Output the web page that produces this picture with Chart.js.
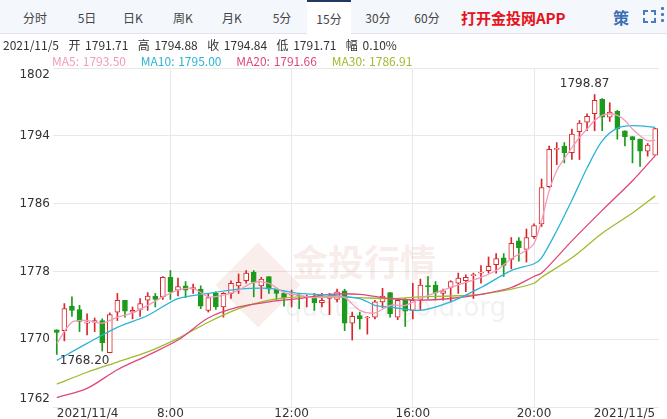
<!DOCTYPE html>
<html>
<head>
<meta charset="utf-8">
<script src="https://cdn.jsdelivr.net/npm/chart.js@4"></script>
<style>
body { margin: 0; width: 667px; height: 419px; overflow: hidden; background: #fff; font-family: "Noto Sans CJK SC", "DejaVu Sans", sans-serif; position: relative; }
.tabs { position: absolute; left: 0; top: 0; width: 667px; height: 33px; background: #f4f7fb; border-bottom: 1px solid #dfe5ec; }
.tab { position: absolute; top: 0; height: 33px; line-height: 35px; font-size: 12px; color: #444; text-align: center; width: 44px; }
.tab.active { background: #fff; border-top: 2px solid #1f3b63; height: 32px; line-height: 33px; }
.app { position: absolute; left: 461px; top: 0; line-height: 35px; font-size: 15px; font-weight: bold; color: #e5141c; }
.ce { position: absolute; left: 613px; top: 0; line-height: 35px; font-size: 16px; color: #3b6fb6; font-weight: bold; }
.fs { position: absolute; left: 643px; top: 10px; width: 13px; height: 13px; border: 2px solid #4a7bc0; box-sizing: border-box; }
.fs:after { content: ''; position: absolute; left: 3px; top: -2px; width: 3px; height: 13px; background: #f4f7fb; }
.fs:before { content: ''; position: absolute; left: -2px; top: 3px; width: 13px; height: 3px; background: #f4f7fb; }
.dots { position: absolute; left: 661px; top: 7px; width: 3px; }
.dots i { display: block; width: 3px; height: 3px; background: #4a7bc0; margin-bottom: 3px; border-radius: 1px; }
.info { position: absolute; left: 3px; top: 36px; font-size: 12px; color: #333; white-space: pre; word-spacing: 2px; }
.ma { position: absolute; left: 52px; top: 52px; font-size: 12px; white-space: pre; word-spacing: 1px; }
#wrap { position: absolute; left: 0; top: 40px; width: 667px; height: 379px; }
</style>
</head>
<body>
<div class="tabs">
  <div class="tab" style="left:13px">分时</div>
  <div class="tab" style="left:65px">5日</div>
  <div class="tab" style="left:111px">日K</div>
  <div class="tab" style="left:161px">周K</div>
  <div class="tab" style="left:210px">月K</div>
  <div class="tab" style="left:260px">5分</div>
  <div class="tab active" style="left:307px">15分</div>
  <div class="tab" style="left:356px">30分</div>
  <div class="tab" style="left:405px">60分</div>
  <div class="app">打开金投网APP</div>
  <div class="ce">策</div>
  <div class="fs"></div>
  <div class="dots"><i></i><i></i><i></i></div>
</div>
<div id="wrap"><canvas id="c"></canvas></div>
<div class="info">2021/11/5  开 1791.71  高 1794.88  收 1794.84  低 1791.71  幅 0.10%</div>
<div class="ma"><span style="color:#f29bbd">MA5: 1793.50</span>    <span style="color:#2bb5d6">MA10: 1795.00</span>    <span style="color:#e0467c">MA20: 1791.66</span>    <span style="color:#9fbb2e">MA30: 1786.91</span></div>
<script>
// 15 minute candles, 2021/11/4 04:15 .. 2021/11/5 00:00
const opens  = [1771.1,1771.0,1773.9,1773.5,1771.9,1772.0,1772.2,1768.4,1773.2,1774.6,
                1773.2,1773.5,1774.6,1775.1,1775.0,1777.3,1775.8,1776.3,1775.9,1775.9,
                1773.4,1775.4,1773.8,1775.4,1776.3,1776.9,1777.9,1776.3,1777.4,1775.9,
                1775.4,1775.2,1775.2,1774.9,1775.0,1774.3,1774.8,1774.7,1775.7,1771.9,
                1772.8,1772.5,1772.6,1774.4,1775.5,1772.6,1774.7,1773.4,1774.6,1776.3,
                1776.4,1775.4,1776.1,1776.6,1776.9,1777.5,1777.8,1778.1,1778.8,1779.6,
                1779.4,1781.6,1780.6,1782.1,1783.6,1788.0,1792.4,1792.8,1792.0,1794.5,
                1795.6,1796.6,1798.3,1796.2,1796.9,1794.6,1793.9,1793.6,1792.2,1791.71];
const highs  = [1771.1,1774.2,1775.0,1774.0,1773.0,1772.5,1772.4,1773.1,1775.4,1774.6,
                1773.8,1774.8,1775.5,1775.4,1777.4,1778.1,1777.2,1776.8,1776.5,1776.3,
                1775.4,1775.6,1775.5,1776.9,1777.7,1778.1,1778.1,1777.3,1777.4,1775.9,
                1775.6,1775.8,1775.4,1775.2,1775.4,1775.4,1775.4,1775.9,1775.9,1773.2,
                1773.2,1772.7,1774.6,1776.0,1775.5,1774.8,1774.8,1776.6,1777.1,1777.4,
                1776.8,1775.9,1776.9,1777.8,1777.6,1777.8,1778.7,1779.7,1780.1,1780.1,
                1782.0,1782.0,1783.0,1783.6,1788.9,1792.8,1793.2,1793.2,1794.8,1795.8,
                1796.6,1798.87,1798.4,1797.9,1797.0,1794.6,1793.9,1793.6,1793.1,1794.88];
const lows   = [1768.2,1769.8,1772.7,1770.9,1770.5,1770.9,1768.6,1768.4,1772.2,1772.6,
                1772.4,1772.7,1773.4,1773.8,1774.7,1774.7,1775.1,1774.9,1775.4,1773.6,
                1773.2,1773.5,1772.6,1774.8,1775.4,1776.6,1775.0,1774.8,1775.4,1774.6,
                1773.9,1773.8,1773.6,1773.8,1773.4,1773.8,1772.9,1774.4,1771.0,1769.9,
                1771.2,1770.6,1772.4,1773.7,1772.6,1772.3,1771.5,1772.4,1773.5,1774.8,
                1774.8,1774.6,1774.4,1775.4,1775.6,1774.8,1776.6,1777.8,1777.8,1777.4,
                1778.3,1779.2,1779.1,1781.9,1783.3,1787.9,1790.6,1790.8,1791.2,1791.2,
                1794.6,1794.6,1794.6,1795.7,1793.6,1792.8,1790.8,1790.4,1791.6,1791.71];
const closes = [1770.8,1773.6,1773.4,1772.1,1772.0,1772.2,1769.6,1772.9,1774.6,1773.3,
                1773.4,1774.2,1775.1,1774.7,1777.3,1775.6,1776.2,1775.8,1776.1,1773.9,
                1774.9,1773.8,1775.4,1776.6,1776.7,1777.8,1776.7,1777.1,1775.9,1775.4,
                1774.9,1775.3,1775.1,1775.0,1774.3,1774.6,1775.1,1775.6,1771.9,1772.7,
                1772.4,1772.6,1774.4,1775.1,1773.0,1774.6,1773.3,1774.6,1776.4,1776.2,
                1775.5,1775.7,1776.8,1777.2,1777.3,1777.6,1777.9,1778.6,1779.5,1778.7,
                1781.3,1780.8,1782.0,1783.4,1787.9,1792.4,1792.5,1792.0,1794.2,1795.5,
                1796.3,1798.2,1796.2,1796.8,1794.8,1793.9,1793.5,1792.2,1792.9,1794.84];

// moving averages: [candle index, value]
const ma5  = [[0,1769.5],[2,1772.0],[4,1772.2],[6,1771.9],[8,1772.6],[10,1773.1],[12,1774.0],[14,1775.0],
              [16,1775.8],[18,1776.0],[20,1775.0],[22,1775.2],[24,1775.8],[26,1776.7],[28,1776.6],[30,1775.5],
              [32,1775.2],[34,1774.9],[36,1775.0],[38,1774.9],[40,1773.4],[42,1773.1],[44,1774.0],[46,1774.0],
              [48,1774.8],[50,1775.5],[52,1776.1],[54,1776.7],[56,1777.3],[58,1778.1],[60,1779.5],[62,1780.5],
              [63,1781.3],[64,1784.0],[65,1787.5],[66,1789.9],[67,1791.3],[68,1792.6],[69,1793.8],[70,1794.8],
              [71,1795.8],[72,1796.4],[73,1796.6],[74,1796.4],[75,1795.8],[76,1794.8],[77,1794.0],[78,1793.4],[79,1793.5]];
const ma10 = [[0,1767.5],[4,1769.5],[8,1771.4],[12,1772.8],[16,1774.8],[20,1775.4],[24,1775.9],[28,1776.0],
              [32,1775.4],[36,1775.2],[40,1774.8],[42,1774.0],[44,1773.8],[48,1773.4],[52,1774.4],[56,1776.1],
              [60,1778.1],[63,1778.9],[64,1779.6],[66,1782.8],[68,1786.4],[70,1790.2],[72,1793.4],[74,1794.9],
              [76,1795.2],[79,1795.0]];
const ma20 = [[0,1763.1],[4,1764.2],[8,1766.4],[12,1768.1],[16,1769.9],[20,1772.5],[24,1773.8],[28,1774.4],
              [32,1774.8],[36,1775.3],[40,1775.3],[44,1774.8],[48,1774.6],[52,1774.8],[56,1775.3],[60,1776.1],
              [63,1777.4],[64,1777.8],[68,1781.6],[72,1785.2],[76,1788.7],[79,1791.66]];
const ma30 = [[0,1764.7],[4,1766.1],[8,1767.3],[12,1768.5],[16,1770.1],[20,1772.0],[24,1773.6],[28,1774.6],
              [32,1775.0],[36,1775.0],[40,1774.9],[44,1774.8],[48,1775.0],[52,1775.1],[56,1775.3],[60,1775.9],
              [63,1776.6],[64,1777.3],[68,1779.6],[72,1782.5],[76,1784.9],[79,1786.91]];

const timeLabels = {0: '2021/11/4', 15: '8:00', 31: '12:00', 47: '16:00', 63: '20:00', 79: '2021/11/5'};
const gridIdx = [15, 31, 47, 63];
const yTicks = [1762, 1770, 1778, 1786, 1794, 1802];
const maxMark = { idx: 71, text: '1798.87' };
const minMark = { idx: 0, text: '1768.20' };

const UP = '#d9262a', DOWN = '#1c9a1c';
const labels = closes.map((_, i) => 'c' + i);
const isUp = closes.map((c, i) => c >= opens[i]);

function maSet(pts, color) {
    return {
        type: 'line',
        data: pts.map(([i, v]) => ({ x: labels[i], y: v })),
        borderColor: color, borderWidth: 1.3, pointRadius: 0,
        tension: 0.3, order: 0
    };
}

const watermark = {
    id: 'watermark',
    beforeDatasetsDraw(chart) {
        const { ctx } = chart;
        // canvas is offset 40px from the page top
        ctx.save();
        ctx.fillStyle = 'rgba(200,90,70,0.10)';
        ctx.translate(258, 245);
        ctx.rotate(Math.PI / 4);
        ctx.fillRect(-30, -30, 60, 60);
        ctx.restore();
        ctx.save();
        ctx.fillStyle = 'rgba(190,80,60,0.10)';
        ctx.font = 'bold 36px "Noto Sans CJK SC"';
        ctx.fillText('金投行情', 292, 236);
        ctx.fillStyle = 'rgba(120,120,120,0.10)';
        ctx.font = '26px "DejaVu Sans"';
        ctx.fillText('quote.cngold.org', 285, 276);
        ctx.restore();
    }
};

const overlay = {
    id: 'overlay',
    afterDatasetsDraw(chart) {
        const { ctx, scales, chartArea } = chart;
        ctx.save();
        ctx.fillStyle = '#333';
        ctx.font = '12px "DejaVu Sans"';
        ctx.textAlign = 'center';
        ctx.fillText(maxMark.text, scales.x.getPixelForValue(maxMark.idx) - 10, scales.y.getPixelForValue(highs[maxMark.idx]) - 8);
        ctx.textAlign = 'left';
        ctx.fillText(minMark.text, scales.x.getPixelForValue(minMark.idx) + 3, scales.y.getPixelForValue(lows[minMark.idx]) + 10);
        // y tick labels, kept inside the plot vertically
        ctx.textAlign = 'right';
        ctx.textBaseline = 'middle';
        yTicks.forEach(v => {
            const y = Math.min(Math.max(scales.y.getPixelForValue(v), chartArea.top + 7), chartArea.bottom - 8);
            ctx.fillText(String(v), chartArea.left - 3, y);
        });
        ctx.restore();
    }
};

new Chart(document.getElementById('c'), {
    data: {
        labels: labels,
        datasets: [
            maSet(ma5, '#f29bbd'),
            maSet(ma10, '#2bb5d6'),
            maSet(ma20, '#e0467c'),
            maSet(ma30, '#9fbb2e'),
            {
                type: 'bar', order: 1,
                data: opens.map((o, i) => [Math.min(o, closes[i]), Math.max(o, closes[i])]),
                backgroundColor: isUp.map(u => u ? '#ffffff' : DOWN),
                borderColor: isUp.map(u => u ? UP : DOWN),
                borderWidth: 1, borderSkipped: false,
                barThickness: 5, minBarLength: 1, grouped: false
            },
            {
                type: 'bar', order: 2,
                data: lows.map((l, i) => [l, highs[i]]),
                backgroundColor: isUp.map(u => u ? UP : DOWN),
                barThickness: 1, grouped: false
            }
        ]
    },
    options: {
        responsive: true, maintainAspectRatio: false, animation: false,
        layout: { padding: { top: 28, right: 8 } },
        plugins: { legend: { display: false }, tooltip: { enabled: false } },
        scales: {
            x: {
                offset: true,
                grid: {
                    offset: false, drawTicks: false,
                    color: ctx => gridIdx.includes(ctx.index) ? '#e8e8e8' : 'transparent'
                },
                border: { display: false },
                ticks: {
                    autoSkip: false, maxRotation: 0, align: 'inner', padding: 0,
                    color: '#333', font: { size: 12, family: 'DejaVu Sans' },
                    callback: (v, i) => timeLabels[i] || ''
                },
                afterFit: s => { s.height = 12; }
            },
            y: {
                min: 1762, max: 1802,
                afterBuildTicks: s => { s.ticks = yTicks.map(v => ({ value: v })); },
                grid: { color: '#e8e8e8', drawTicks: false },
                border: { display: false },
                ticks: { display: false },
                afterFit: s => { s.width = 53; }
            }
        }
    },
    plugins: [watermark, overlay]
});
</script>
</body>
</html>
